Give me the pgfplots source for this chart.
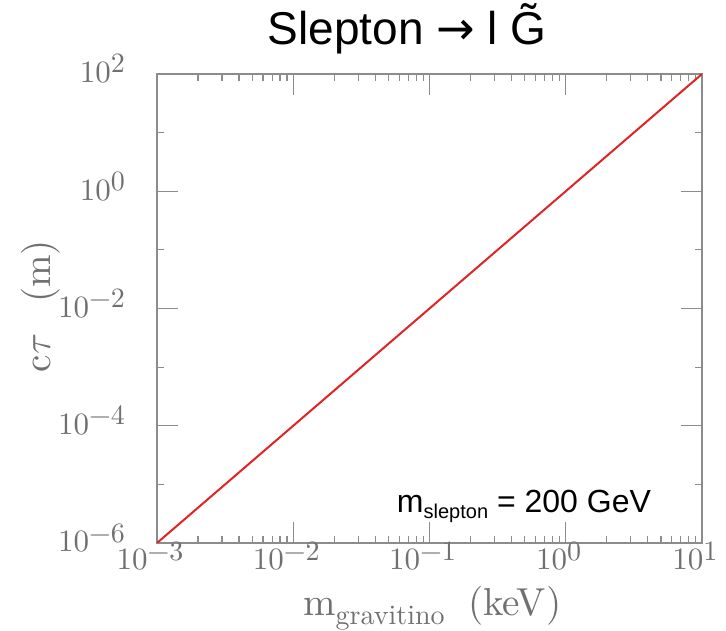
\RequirePackage{fix-cm}
\documentclass[border=0pt]{standalone}
\usepackage{fontspec}
\usepackage{pgfplots}
\pgfplotsset{compat=1.18}
\newfontfamily\arial{Liberation Sans}
\newfontfamily\dejavu{DejaVu Sans}
\newfontfamily\lmten{lmroman10-regular}[Extension=.otf]
\definecolor{axgray}{RGB}{140,140,140}
\definecolor{txtgray}{RGB}{112,112,112}
\definecolor{linered}{RGB}{222,36,36}
% tick label: 10 with a near full-size raised exponent
\newcommand\tl[1]{\lmten\fontsize{31}{33}\selectfont 10\raisebox{10pt}{\fontsize{28}{28}\selectfont #1}}

\begin{document}
\begin{tikzpicture}
\useasboundingbox (0,0) rectangle (726pt,631pt);
\begin{axis}[
    at={(157pt,88pt)}, anchor=south west,
    scale only axis,
    width=545pt, height=469pt,
    xmode=log, ymode=log,
    xmin=1e-3, xmax=10,
    ymin=1e-6, ymax=100,
    xtick={1e-3,1e-2,1e-1,1,10},
    xticklabels={\tl{−3},\tl{−2},\tl{−1},\tl{0},\tl{1}},
    ytick={1e-6,1e-4,1e-2,1,100},
    yticklabels={\tl{−6},\tl{−4},\tl{−2},\tl{0},\tl{2}},
    minor ytick={1e-5,1e-3,1e-1,10},
    minor xtick={2e-3,3e-3,4e-3,5e-3,6e-3,7e-3,8e-3,9e-3,
                 2e-2,3e-2,4e-2,5e-2,6e-2,7e-2,8e-2,9e-2,
                 2e-1,3e-1,4e-1,5e-1,6e-1,7e-1,8e-1,9e-1,
                 2,3,4,5,6,7,8,9},
    tick align=inside,
    major tick length=21pt,
    minor tick length=7pt,
    axis line style={axgray, line width=1.3pt},
    every tick/.style={axgray, line width=1.2pt},
    ticklabel style={txtgray},
    xticklabel style={anchor=base, inner sep=0pt, yshift=-27pt, xshift=-7pt},
    yticklabel style={anchor=base east, inner sep=0pt, xshift=-32pt, yshift=-9pt},
    xlabel={m\raisebox{-9pt}{\fontsize{28}{28}\selectfont gravitino}\hspace{0.6em}(keV)},
    ylabel={c$\tau$\hspace{0.8em}(m)},
    label style={txtgray, font=\lmten\fontsize{39}{41}\selectfont},
    xlabel style={at={(axis description cs:0.505,-0.155)}, anchor=base},
    ylabel style={at={(axis description cs:-0.196,0.505)}, anchor=base},
    title={\arial Slepton {\dejavu →} l G̃},
    title style={at={(axis description cs:0.459,1.051)}, anchor=base,
                 font=\fontsize{46}{50}\selectfont},
]
\addplot[linered, line width=2pt] coordinates {(1e-3,1e-6) (10,100)};
\node[anchor=base west, inner sep=0pt, font=\arial\fontsize{32}{34}\selectfont]
    at (axis description cs:0.440,0.064)
    {m\raisebox{-6pt}{\fontsize{20}{20}\selectfont slepton} = 200 GeV};
\end{axis}
\end{tikzpicture}
\end{document}
